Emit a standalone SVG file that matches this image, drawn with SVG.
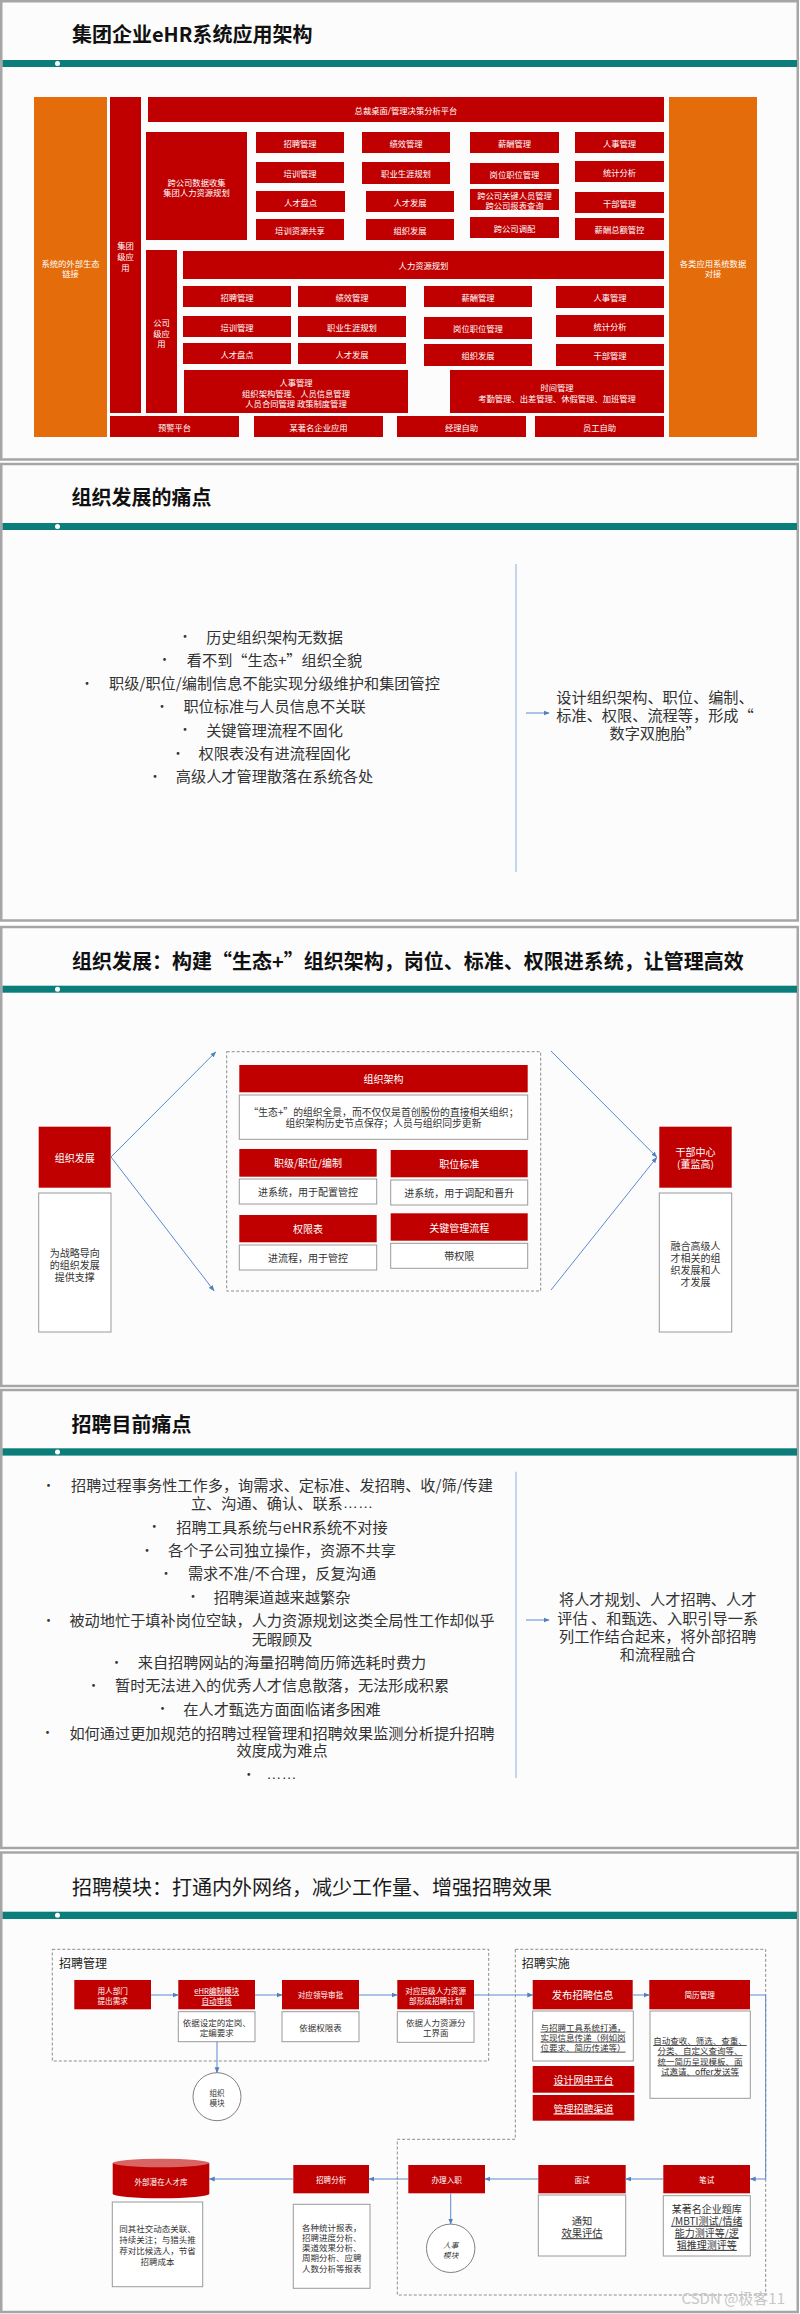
<svg xmlns="http://www.w3.org/2000/svg" width="800" height="2314" viewBox="0 0 800 2314">
<defs>
<style>
text{font-family:"Noto Sans CJK SC","Noto Sans",sans-serif}
.pn{fill:#fcfcfc;stroke:#a6a6a6;stroke-width:2.5}
.bar{fill:#0b7d7b}
.dot{fill:#fff}
.ttl{font-size:20px;font-weight:700;fill:#111}
.ttn{font-size:20px;fill:#1a1a1a}
.r{fill:#c00000}
.o{fill:#e46c0a}
.w{fill:#fff;stroke:#9a9a9a;stroke-width:1}
.a{font-size:8.3px;fill:#fff;text-anchor:middle;dominant-baseline:central}
.b{font-size:15.2px;fill:#333;text-anchor:middle;dominant-baseline:central}
.bu{font-size:13px;fill:#333;text-anchor:middle;dominant-baseline:central}
.el{font-family:"Liberation Sans",sans-serif}
.lab{font-size:12px;fill:#222}
.tw{font-size:10px;fill:#fff;text-anchor:middle;dominant-baseline:central}
.td{font-size:10px;fill:#333;text-anchor:middle;dominant-baseline:central}
.sw{font-size:7.6px;fill:#fff;text-anchor:middle;dominant-baseline:central}
.sd{font-size:8.5px;fill:#333;text-anchor:middle;dominant-baseline:central}
.u{text-decoration:underline}
.dash{fill:none;stroke:#8c8c8c;stroke-width:1;stroke-dasharray:3 2}
.vl{fill:none;stroke:#9dbbe0;stroke-width:1.2}
.ln{fill:none;stroke:#5b8bd0;stroke-width:1}
.cir{fill:#fff;stroke:#808080;stroke-width:1}
</style>
<marker id="ah" viewBox="0 0 10 10" refX="9" refY="5" markerWidth="6" markerHeight="6" orient="auto"><path d="M0,1 L10,5 L0,9 z" fill="#4f81bd"/></marker>
</defs>
<rect width="800" height="2314" fill="#fff"/>

<!-- ================= Panel frames ================= -->
<g id="frames">
<rect class="pn" x="1.25" y="1.25" width="796.5" height="458.25"/>
<rect class="pn" x="1.25" y="464" width="796.5" height="456.5"/>
<rect class="pn" x="1.25" y="927" width="796.5" height="459"/>
<rect class="pn" x="1.25" y="1390" width="796.5" height="458"/>
<rect class="pn" x="1.25" y="1852.5" width="796.5" height="459.5"/>
<rect class="bar" x="2.5" y="60" width="794.5" height="7"/>
<circle class="dot" cx="57.5" cy="63.5" r="2.5"/>
<rect class="bar" x="2.5" y="523" width="794.5" height="7"/>
<circle class="dot" cx="57.5" cy="526.5" r="2.5"/>
<rect class="bar" x="2.5" y="985.7" width="794.5" height="7"/>
<circle class="dot" cx="57.5" cy="989.2" r="2.5"/>
<rect class="bar" x="2.5" y="1448.3" width="794.5" height="7.3"/>
<circle class="dot" cx="57.5" cy="1452" r="2.5"/>
<rect class="bar" x="2.5" y="1911.7" width="794.5" height="7.3"/>
<circle class="dot" cx="57.5" cy="1915.3" r="2.5"/>
</g>

<!-- ================= Panel 1 ================= -->
<g id="p1-title"><text class="ttl" x="72" y="41.8">集团企业eHR系统应用架构</text></g>
<g id="p1-ext"><rect class="o" x="34" y="97" width="73" height="340"/><text class="a" x="70.5" y="263">系统的外部生态</text><text class="a" x="70.5" y="273">链接</text></g>
<g id="p1-data"><rect class="o" x="669" y="97" width="88" height="340"/><text class="a" x="713" y="263">各类应用系统数据</text><text class="a" x="713" y="273">对接</text></g>
<g id="p1-group"><rect class="r" x="110" y="97" width="31" height="316"/><text class="a" x="125.5" y="245">集团</text><text class="a" x="125.5" y="256">级应</text><text class="a" x="125.5" y="266.5">用</text></g>
<g id="p1-top"><rect class="r" x="148" y="97" width="516" height="25"/><text class="a" x="406" y="110">总裁桌面/管理决策分析平台</text></g>
<g id="p1-cross"><rect class="r" x="146" y="132" width="101" height="108"/><text class="a" x="196.5" y="182">跨公司数据收集</text><text class="a" x="196.5" y="192">集团人力资源规划</text></g>
<g id="p1-g1"><rect class="r" x="256" y="132" width="88" height="21"/><text class="a" x="300" y="142.5">招聘管理</text></g>
<g id="p1-g2"><rect class="r" x="256" y="162" width="88" height="21"/><text class="a" x="300" y="172.5">培训管理</text></g>
<g id="p1-g3"><rect class="r" x="256" y="191" width="89" height="21"/><text class="a" x="300.5" y="201.5">人才盘点</text></g>
<g id="p1-g4"><rect class="r" x="256" y="219" width="88" height="21"/><text class="a" x="300" y="229.5">培训资源共享</text></g>
<g id="p1-g5"><rect class="r" x="362" y="132" width="88" height="21"/><text class="a" x="406" y="142.5">绩效管理</text></g>
<g id="p1-g6"><rect class="r" x="362" y="162" width="88" height="22"/><text class="a" x="406" y="173">职业生涯规划</text></g>
<g id="p1-g7"><rect class="r" x="366" y="191" width="88" height="21"/><text class="a" x="410" y="201.5">人才发展</text></g>
<g id="p1-g8"><rect class="r" x="366" y="219" width="88" height="21"/><text class="a" x="410" y="229.5">组织发展</text></g>
<g id="p1-g9"><rect class="r" x="470" y="132" width="89" height="21"/><text class="a" x="514.5" y="142.5">薪酬管理</text></g>
<g id="p1-g10"><rect class="r" x="470" y="163" width="89" height="21"/><text class="a" x="514.5" y="173.5">岗位职位管理</text></g>
<g id="p1-g11"><rect class="r" x="470" y="189" width="89" height="21"/><text class="a" x="514.5" y="194.5">跨公司关键人员管理</text><text class="a" x="514.5" y="204.5">跨公司报表查询</text></g>
<g id="p1-g12"><rect class="r" x="470" y="217" width="89" height="21"/><text class="a" x="514.5" y="227.5">跨公司调配</text></g>
<g id="p1-g13"><rect class="r" x="575" y="132" width="89" height="21"/><text class="a" x="619.5" y="142.5">人事管理</text></g>
<g id="p1-g14"><rect class="r" x="575" y="161" width="89" height="21"/><text class="a" x="619.5" y="171.5">统计分析</text></g>
<g id="p1-g15"><rect class="r" x="575" y="192" width="89" height="21"/><text class="a" x="619.5" y="202.5">干部管理</text></g>
<g id="p1-g16"><rect class="r" x="575" y="218" width="89" height="22"/><text class="a" x="619.5" y="229">薪酬总额管控</text></g>
<g id="p1-company"><rect class="r" x="146" y="250" width="31" height="163"/><text class="a" x="161.5" y="322">公司</text><text class="a" x="161.5" y="332.5">级应</text><text class="a" x="161.5" y="343">用</text></g>
<g id="p1-hrp"><rect class="r" x="183" y="251" width="481" height="28"/><text class="a" x="423.5" y="265">人力资源规划</text></g>
<g id="p1-c1"><rect class="r" x="183" y="286" width="108" height="21"/><text class="a" x="237" y="296.5">招聘管理</text></g>
<g id="p1-c2"><rect class="r" x="183" y="316" width="108" height="21"/><text class="a" x="237" y="326.5">培训管理</text></g>
<g id="p1-c3"><rect class="r" x="183" y="343" width="108" height="21"/><text class="a" x="237" y="353.5">人才盘点</text></g>
<g id="p1-c4"><rect class="r" x="298" y="286" width="108" height="21"/><text class="a" x="352" y="296.5">绩效管理</text></g>
<g id="p1-c5"><rect class="r" x="298" y="316" width="108" height="21"/><text class="a" x="352" y="326.5">职业生涯规划</text></g>
<g id="p1-c6"><rect class="r" x="298" y="343" width="108" height="21"/><text class="a" x="352" y="353.5">人才发展</text></g>
<g id="p1-c7"><rect class="r" x="424" y="286" width="108" height="21"/><text class="a" x="478" y="296.5">薪酬管理</text></g>
<g id="p1-c8"><rect class="r" x="424" y="317" width="108" height="22"/><text class="a" x="478" y="328">岗位职位管理</text></g>
<g id="p1-c9"><rect class="r" x="424" y="344" width="108" height="22"/><text class="a" x="478" y="355">组织发展</text></g>
<g id="p1-c10"><rect class="r" x="556" y="286" width="108" height="22"/><text class="a" x="610" y="297">人事管理</text></g>
<g id="p1-c11"><rect class="r" x="556" y="315" width="108" height="22"/><text class="a" x="610" y="326">统计分析</text></g>
<g id="p1-c12"><rect class="r" x="556" y="344" width="108" height="22"/><text class="a" x="610" y="355">干部管理</text></g>
<g id="p1-pers"><rect class="r" x="184" y="370" width="224" height="43"/><text class="a" x="296" y="382">人事管理</text><text class="a" x="296" y="392.5">组织架构管理、人员信息管理</text><text class="a" x="296" y="403">人员合同管理 政策制度管理</text></g>
<g id="p1-time"><rect class="r" x="450" y="370" width="214" height="43"/><text class="a" x="557" y="387">时间管理</text><text class="a" x="557" y="398">考勤管理、出差管理、休假管理、加班管理</text></g>
<g id="p1-b1"><rect class="r" x="110" y="416" width="129" height="21"/><text class="a" x="174.5" y="426.5">预警平台</text></g>
<g id="p1-b2"><rect class="r" x="254" y="416" width="129" height="21"/><text class="a" x="318.5" y="426.5">某著名企业应用</text></g>
<g id="p1-b3"><rect class="r" x="397" y="416" width="129" height="21"/><text class="a" x="461.5" y="426.5">经理自助</text></g>
<g id="p1-b4"><rect class="r" x="535" y="416" width="129" height="21"/><text class="a" x="599.5" y="426.5">员工自助</text></g>

<!-- ================= Panel 2 ================= -->
<g id="p2-title"><text class="ttl" x="71.5" y="505">组织发展的痛点</text></g>
<g id="p2-list">
<text class="bu" x="185" y="635.5">•</text><text class="b" x="274.5" y="635.5">历史组织架构无数据</text>
<text class="bu" x="164.5" y="658.8">•</text><text class="b" x="274.5" y="658.8">看不到“生态+”组织全貌</text>
<text class="bu" x="87" y="682.1">•</text><text class="b" x="274.5" y="682.1">职级/职位/编制信息不能实现分级维护和集团管控</text>
<text class="bu" x="162" y="705.4">•</text><text class="b" x="274.5" y="705.4">职位标准与人员信息不关联</text>
<text class="bu" x="185" y="728.7">•</text><text class="b" x="274.5" y="728.7">关键管理流程不固化</text>
<text class="bu" x="178" y="752">•</text><text class="b" x="274.5" y="752">权限表没有进流程固化</text>
<text class="bu" x="155" y="775.3">•</text><text class="b" x="274.5" y="775.3">高级人才管理散落在系统各处</text>
</g>
<g id="p2-goal">
<text class="b" x="655" y="696">设计组织架构、职位、编制、</text>
<text class="b" x="655" y="714">标准、权限、流程等，形成“</text>
<text class="b" x="655" y="732">数字双胞胎”</text>
</g>

<!-- ================= Panel 3 ================= -->
<g id="p3-title"><text class="ttl" x="72" y="968.5">组织发展：构建“生态+”组织架构，岗位、标准、权限进系统，让管理高效</text></g>
<g id="p3-od"><rect class="r" x="38.7" y="1126.7" width="72" height="61"/><text class="tw" x="74.7" y="1157.2">组织发展</text></g>
<g id="p3-od-desc"><rect class="w" x="38.7" y="1193" width="72.3" height="139"/><text class="td" x="74.8" y="1252">为战略导向</text><text class="td" x="74.8" y="1264">的组织发展</text><text class="td" x="74.8" y="1276">提供支撑</text></g>
<g id="p3-box"><rect class="dash" x="226.7" y="1051.7" width="314" height="239.3"/></g>
<g id="p3-arch"><rect class="r" x="239.3" y="1065" width="288.4" height="27.3"/><text class="tw" x="383.5" y="1078.7">组织架构</text>
<rect class="w" x="239.3" y="1095" width="288.4" height="44.3"/><text class="td" x="383.5" y="1111.7" style="font-size:9.8px">“生态+”的组织全景，而不仅仅是首创股份的直接相关组织；</text><text class="td" x="383.5" y="1123.3" style="font-size:9.8px">组织架构历史节点保存；人员与组织同步更新</text></g>
<g id="p3-grade"><rect class="r" x="239.3" y="1149" width="137.4" height="27.7"/><text class="tw" x="308" y="1162.8">职级/职位/编制</text>
<rect class="w" x="239.3" y="1179" width="137.4" height="25"/><text class="td" x="308" y="1191.5">进系统，用于配置管控</text></g>
<g id="p3-std"><rect class="r" x="390.7" y="1150" width="137" height="27.3"/><text class="tw" x="459.2" y="1163.6">职位标准</text>
<rect class="w" x="390.7" y="1180" width="137" height="25"/><text class="td" x="459.2" y="1192.5">进系统，用于调配和晋升</text></g>
<g id="p3-perm"><rect class="r" x="239.3" y="1215" width="137.4" height="27.3"/><text class="tw" x="308" y="1228.6">权限表</text>
<rect class="w" x="239.3" y="1245" width="137.4" height="25"/><text class="td" x="308" y="1257.5">进流程，用于管控</text></g>
<g id="p3-flow"><rect class="r" x="390.7" y="1213.3" width="137" height="27.4"/><text class="tw" x="459.2" y="1227">关键管理流程</text>
<rect class="w" x="390.7" y="1243.3" width="137" height="25"/><text class="td" x="459.2" y="1255.8">带权限</text></g>
<g id="p3-cadre"><rect class="r" x="659.3" y="1126.7" width="72.4" height="61"/><text class="tw" x="695.5" y="1151">干部中心</text><text class="tw" x="695.5" y="1163.3">(董监高)</text></g>
<g id="p3-cadre-desc"><rect class="w" x="659.3" y="1193" width="72.4" height="139"/><text class="td" x="695.5" y="1245">融合高级人</text><text class="td" x="695.5" y="1257.2">才相关的组</text><text class="td" x="695.5" y="1269.4">织发展和人</text><text class="td" x="695.5" y="1281.6">才发展</text></g>

<!-- ================= Panel 4 ================= -->
<g id="p4-title"><text class="ttl" x="71.5" y="1431.5">招聘目前痛点</text></g>
<g id="p4-list">
<text class="bu" x="48.5" y="1484">•</text><text class="b" x="282" y="1484">招聘过程事务性工作多，询需求、定标准、发招聘、收/筛/传建</text>
<text class="b" x="282" y="1502.3">立、沟通、确认、联系<tspan class="el">……</tspan></text>
<text class="bu" x="154.3" y="1525.7">•</text><text class="b" x="282" y="1525.7">招聘工具系统与eHR系统不对接</text>
<text class="bu" x="147" y="1549">•</text><text class="b" x="282" y="1549">各个子公司独立操作，资源不共享</text>
<text class="bu" x="166" y="1572.3">•</text><text class="b" x="282" y="1572.3">需求不准/不合理，反复沟通</text>
<text class="bu" x="193" y="1595.7">•</text><text class="b" x="282" y="1595.7">招聘渠道越来越繁杂</text>
<text class="bu" x="48.5" y="1619">•</text><text class="b" x="282" y="1619">被动地忙于填补岗位空缺，人力资源规划这类全局性工作却似乎</text>
<text class="b" x="282" y="1637.7">无暇顾及</text>
<text class="bu" x="116.5" y="1661">•</text><text class="b" x="282" y="1661">来自招聘网站的海量招聘简历筛选耗时费力</text>
<text class="bu" x="93.5" y="1684.3">•</text><text class="b" x="282" y="1684.3">暂时无法进入的优秀人才信息散落，无法形成积累</text>
<text class="bu" x="162.5" y="1707.7">•</text><text class="b" x="282" y="1707.7">在人才甄选方面面临诸多困难</text>
<text class="bu" x="47.5" y="1731.7">•</text><text class="b" x="282" y="1731.7">如何通过更加规范的招聘过程管理和招聘效果监测分析提升招聘</text>
<text class="b" x="282" y="1749.3">效度成为难点</text>
<text class="bu" x="248.8" y="1773.3">•</text><text class="b el" x="281.4" y="1773.3">……</text>
</g>
<g id="p4-goal">
<text class="b" x="657.7" y="1598.3">将人才规划、人才招聘、人才</text>
<text class="b" x="657.7" y="1616.7">评估 、和甄选、入职引导一系</text>
<text class="b" x="657.7" y="1635">列工作结合起来，将外部招聘</text>
<text class="b" x="657.7" y="1653.3">和流程融合</text>
</g>

<!-- ================= Panel 5 ================= -->
<g id="p5-title"><text class="ttn" x="72" y="1895">招聘模块：打通内外网络，减少工作量、增强招聘效果</text></g>
<g id="p5-mgmt"><rect class="dash" x="52.3" y="1949.3" width="436.4" height="111.7"/><text class="lab" x="59" y="1968">招聘管理</text></g>
<g id="p5-impl"><path class="dash" d="M515.3,1949.3 H765.7 V2295 H397.3 V2139.3 H515.3 Z"/><text class="lab" x="521.7" y="1968">招聘实施</text></g>
<g id="p5-dept"><rect class="r" x="74.3" y="1980" width="76.7" height="29.3"/><text class="sw" x="112.7" y="1990.5">用人部门</text><text class="sw" x="112.7" y="2000.5">提出需求</text></g>
<g id="p5-ehr"><rect class="r" x="178.3" y="1980" width="76.7" height="29.3"/><text class="sw u" x="216.7" y="1990.5">eHR编制模块</text><text class="sw u" x="216.7" y="2000.5">自动审核</text>
<rect class="w" x="178.3" y="2011.7" width="76.7" height="30"/><text class="sd" x="216.7" y="2022.3">依据设定的定岗、</text><text class="sd" x="216.7" y="2032.3">定编要求</text></g>
<g id="p5-lead"><rect class="r" x="282" y="1980" width="77" height="29.3"/><text class="sw" x="320.5" y="1994.7">对应领导审批</text>
<rect class="w" x="282" y="2011.7" width="77" height="30"/><text class="sd" x="320.5" y="2026.7">依据权限表</text></g>
<g id="p5-plan"><rect class="r" x="397.3" y="1980" width="76.7" height="29.3"/><text class="sw" x="435.7" y="1990.5">对应层级人力资源</text><text class="sw" x="435.7" y="2000">部形成招聘计划</text>
<rect class="w" x="397.3" y="2011.7" width="76.7" height="30.6"/><text class="sd" x="435.7" y="2022">依据人力资源分</text><text class="sd" x="435.7" y="2032">工界面</text></g>
<g id="p5-org"><circle class="cir" cx="217" cy="2096.7" r="24"/><text class="sw" x="217" y="2092.8" style="fill:#333">组织</text><text class="sw" x="217" y="2102.5" style="fill:#333">模块</text></g>
<g id="p5-pub"><rect class="r" x="532.7" y="1980" width="100" height="29.3"/><text class="tw" x="582.7" y="1994.7" style="font-size:10.3px">发布招聘信息</text>
<rect class="w" x="532.7" y="2011" width="100.6" height="50"/><text class="sd u" x="583" y="2026.7">与招聘工具系统打通，</text><text class="sd u" x="583" y="2036.7">实现信息传递（例如岗</text><text class="sd u" x="583" y="2046.7">位要求、简历传递等）</text></g>
<g id="p5-web"><rect class="r" x="532.7" y="2066" width="101.6" height="26.7"/><text class="tw u" x="583.5" y="2079.3">设计网申平台</text></g>
<g id="p5-chan"><rect class="r" x="532.7" y="2095" width="101.6" height="25.7"/><text class="tw u" x="583.5" y="2108">管理招聘渠道</text></g>
<g id="p5-cv"><rect class="r" x="649.3" y="1980" width="100.7" height="29.3"/><text class="sw" x="699.7" y="1994.7">简历管理</text>
<rect class="w" x="650" y="2011" width="100.3" height="87.3"/><text class="sd u" x="700" y="2040">自动查收、筛选、查重、</text><text class="sd u" x="700" y="2050.3">分类、自定义查询等、</text><text class="sd u" x="700" y="2060.5">统一简历呈现模板、面</text><text class="sd u" x="700" y="2070.5">试邀请、offer发送等</text></g>
<g id="p5-test"><rect class="r" x="663.3" y="2165" width="86.7" height="28.3"/><text class="sw" x="706.7" y="2179">笔试</text>
<rect class="w" x="663.3" y="2195.7" width="87" height="60.3"/><text class="td" x="706.8" y="2208.3">某著名企业题库</text><text class="td u" x="706.8" y="2220.3">/MBTI测试/情绪</text><text class="td u" x="706.8" y="2232.4">能力测评等/逻</text><text class="td u" x="706.8" y="2244.4">辑推理测评等</text></g>
<g id="p5-intv"><rect class="r" x="538.3" y="2165" width="87.4" height="28.3"/><text class="sw" x="582" y="2179">面试</text>
<rect class="w" x="538.3" y="2195" width="87.4" height="61"/><text class="td" x="582" y="2220" style="font-size:10.3px">通知</text><text class="td u" x="582" y="2232.7" style="font-size:10.3px">效果评估</text></g>
<g id="p5-onb"><rect class="r" x="408.3" y="2165" width="76.7" height="28.3"/><text class="sw" x="446.7" y="2179">办理入职</text></g>
<g id="p5-hr"><circle class="cir" cx="450.7" cy="2248.3" r="24.2"/><text class="sw" x="450.7" y="2244.5" style="fill:#333;font-style:italic">人事</text><text class="sw" x="450.7" y="2254" style="fill:#333;font-style:italic">模块</text></g>
<g id="p5-ana"><rect class="r" x="293.3" y="2165" width="75.7" height="28.3"/><text class="sw" x="331.2" y="2179">招聘分析</text>
<rect class="w" x="293.3" y="2204.3" width="76.7" height="84"/><text class="sd" x="331.7" y="2226.7">各种统计报表，</text><text class="sd" x="331.7" y="2236.9">招聘进度分析、</text><text class="sd" x="331.7" y="2247.1">渠道效果分析、</text><text class="sd" x="331.7" y="2257.3">周期分析、应聘</text><text class="sd" x="331.7" y="2267.6">人数分析等报表</text></g>
<g id="p5-pool"><path class="r" d="M112.7,2163 V2193.8 A48.3,4.5 0 0 0 209.3,2193.8 V2163 Z"/><ellipse cx="161" cy="2163" rx="48.3" ry="4.2" fill="#d86464"/><text class="sw" x="161" y="2181.7">外部潜在人才库</text>
<rect class="w" x="112.3" y="2202" width="90.4" height="84.7"/><text class="sd" x="157.5" y="2228.3">同其社交动态关联、</text><text class="sd" x="157.5" y="2239.2">持续关注；与猎头推</text><text class="sd" x="157.5" y="2250">荐对比候选人，节省</text><text class="sd" x="157.5" y="2260.7">招聘成本</text></g>
<g id="watermark"><text x="785" y="2304" text-anchor="end" style="font-size:15px;fill:#c8c8c8">CSDN @极客11</text></g>

<!-- ================= Connectors ================= -->
<g id="connectors">
<line class="vl" x1="516" y1="564" x2="516" y2="872"/>
<line class="vl" x1="516" y1="1471.7" x2="516" y2="1778"/>
<line class="ln" x1="526" y1="713" x2="549" y2="713" marker-end="url(#ah)"/>
<line class="ln" x1="526" y1="1620" x2="549" y2="1620" marker-end="url(#ah)"/>
<line class="ln" x1="111" y1="1157" x2="215.7" y2="1052" marker-end="url(#ah)"/>
<line class="ln" x1="111" y1="1157" x2="214" y2="1290.7" marker-end="url(#ah)"/>
<line class="ln" x1="551" y1="1051" x2="656.7" y2="1157" marker-end="url(#ah)"/>
<line class="ln" x1="551" y1="1290" x2="656.7" y2="1157.5" marker-end="url(#ah)"/>
<line class="ln" x1="151" y1="1995" x2="178.3" y2="1995" marker-end="url(#ah)"/>
<line class="ln" x1="255" y1="1995" x2="282" y2="1995" marker-end="url(#ah)"/>
<line class="ln" x1="359" y1="1995" x2="397.3" y2="1995" marker-end="url(#ah)"/>
<line class="ln" x1="474" y1="1995" x2="532.7" y2="1995" marker-end="url(#ah)"/>
<line class="ln" x1="632.7" y1="1995" x2="649.3" y2="1995" marker-end="url(#ah)"/>
<polyline class="ln" points="750,1995 765.7,1995 765.7,2179 750.3,2179" marker-end="url(#ah)"/>
<line class="ln" x1="663.3" y1="2179" x2="625.7" y2="2179" marker-end="url(#ah)"/>
<line class="ln" x1="538.3" y1="2179" x2="485" y2="2179" marker-end="url(#ah)"/>
<line class="ln" x1="408.3" y1="2179" x2="369" y2="2179" marker-end="url(#ah)"/>
<line class="ln" x1="293.3" y1="2179" x2="209.3" y2="2179" marker-end="url(#ah)"/>
<line class="ln" x1="217" y1="2041.7" x2="217" y2="2072.7" marker-end="url(#ah)"/>
<line class="ln" x1="450.7" y1="2193.3" x2="450.7" y2="2224" marker-end="url(#ah)"/>
</g>
</svg>
